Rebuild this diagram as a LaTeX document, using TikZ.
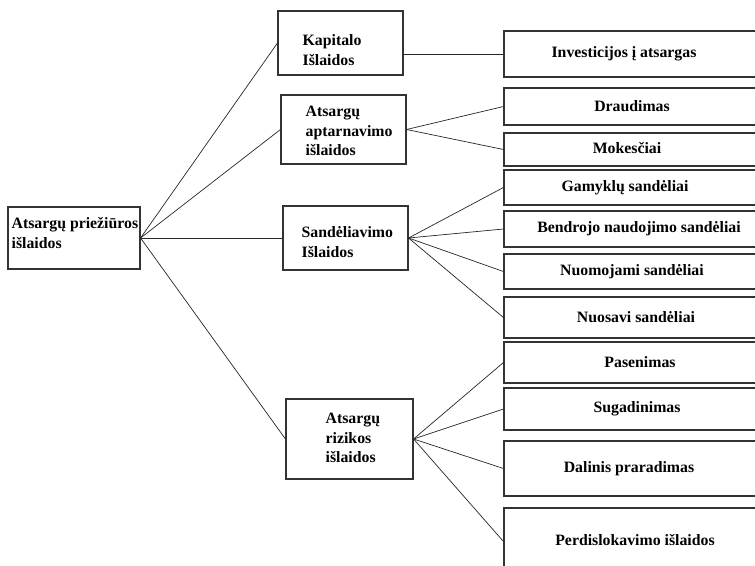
\documentclass[tikz,border=0pt]{standalone}
\usepackage{fontspec}
\setmainfont{Liberation Serif}
\begin{document}
\begin{tikzpicture}[x=1pt,y=-1pt,
  box/.style={draw=black!80,line width=1.1pt,rectangle,inner sep=0pt},
  leaf/.style={box,minimum width=264pt,font=\bfseries\fontsize{15.8}{19.5}\selectfont},
  txt/.style={inner sep=0pt,align=left,font=\bfseries\fontsize{15.8}{19.5}\selectfont},
  link/.style={draw=black!85,line width=0.7pt}]
\useasboundingbox (0,0) rectangle (755,565);
\clip (0,0) rectangle (755,565);

% left column
\node[box,minimum width=132pt,minimum height=62pt] (root) at (74,238) {};
\node[txt,anchor=west] at ([xshift=4pt,yshift=5pt]root.west) {Atsargų priežiūros\\išlaidos};

% middle column
\node[box,minimum width=125pt,minimum height=64pt] (kap) at (340.5,43) {};
\node[txt,anchor=west] at ([xshift=25pt,yshift=-7pt]kap.west) {Kapitalo\\Išlaidos};
\node[box,minimum width=125pt,minimum height=69pt] (apt) at (343.5,129.5) {};
\node[txt,anchor=west] at ([xshift=25pt,yshift=-1.5pt]apt.west) {Atsargų\\aptarnavimo\\išlaidos};
\node[box,minimum width=125pt,minimum height=64pt] (san) at (345.5,238) {};
\node[txt,anchor=west] at ([xshift=19pt,yshift=-4pt]san.west) {Sandėliavimo\\Išlaidos};
\node[box,minimum width=127pt,minimum height=80pt] (riz) at (349.5,439) {};
\node[txt,anchor=west] at ([xshift=40pt,yshift=1pt]riz.west) {Atsargų\\rizikos\\išlaidos};

% right column (boxes run on past the right edge)
\node[leaf,minimum height=46pt] (inv) at (636,54) {\hspace*{-24pt}Investicijos į atsargas};
\node[leaf,minimum height=37pt] (dra) at (636,106.5) {\hspace*{-8pt}Draudimas};
\node[leaf,minimum height=33pt] (mok) at (636,149.5) {\hspace*{-18pt}\raisebox{4pt}{Mokesčiai}};
\node[leaf,minimum height=35pt] (gam) at (636,187.5) {\hspace*{-22pt}\raisebox{2pt}{Gamyklų sandėliai}};
\node[leaf,minimum height=36pt] (ben) at (636,229) {\hspace*{6pt}Bendrojo naudojimo sandėliai};
\node[leaf,minimum height=35pt] (nuo) at (636,271.5) {\hspace*{-8pt}Nuomojami sandėliai};
\node[leaf,minimum height=41pt] (nsv) at (636,317.5) {Nuosavi sandėliai};
\node[leaf,minimum height=41pt] (pas) at (636,362.5) {\hspace*{8pt}Pasenimas};
\node[leaf,minimum height=42pt] (sug) at (636,409) {\hspace*{2pt}\raisebox{1pt}{Sugadinimas}};
\node[leaf,minimum height=55pt] (dal) at (636,468.5) {\hspace*{-14pt}Dalinis praradimas};
\node[leaf,minimum height=67pt] (per) at (636,541.5) {\hspace*{-2pt}\raisebox{3pt}{Perdislokavimo išlaidos}};

% connectors
\foreach \m in {kap,apt,san,riz} \path[link] (root.east) -- (\m.west);
\path[link] (inv.west -| kap.east) -- (inv.west);
\foreach \r in {dra,mok} \path[link] (apt.east) -- (\r.west);
\foreach \r in {gam,ben,nuo,nsv} \path[link] (san.east) -- (\r.west);
\foreach \r in {pas,sug,dal,per} \path[link] (riz.east) -- (\r.west);
\end{tikzpicture}
\end{document}
